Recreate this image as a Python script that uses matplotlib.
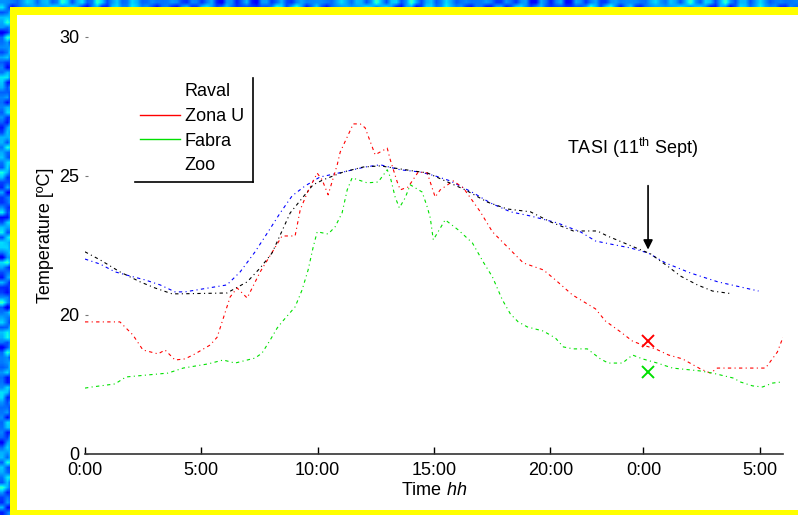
import numpy as np
import matplotlib
matplotlib.use("Agg")
import matplotlib.pyplot as plt
from matplotlib.lines import Line2D
from matplotlib.patches import Rectangle

plt.rcParams["font.family"] = ["Liberation Sans", "DejaVu Sans"]
plt.rcParams["mathtext.fontset"] = "custom"
plt.rcParams["mathtext.rm"] = "Liberation Sans"
plt.rcParams["mathtext.it"] = "Liberation Sans:italic"

# hours since 0:00 of the first day, temperature in degC
raval_h = [0.0, 0.65, 1.29, 1.94, 2.58, 3.23, 3.87, 4.3, 4.8, 6.1, 6.67, 7.31, 7.87,
           8.39, 8.9, 9.46, 10.1, 11.1, 12.04, 12.69, 13.55, 14.41, 15.05, 15.7,
           16.69, 17.42, 18.28, 19.14, 20.3, 21.29, 21.94, 22.58, 23.44, 24.2,
           24.95, 26.02, 27.2, 28.95]
raval_t = [22.01, 21.83, 21.55, 21.40, 21.26, 21.08, 20.83, 20.83, 20.9, 21.08, 21.55,
           22.27, 22.99, 23.67, 24.28, 24.64, 24.96, 25.14, 25.32, 25.40, 25.22,
           25.14, 25.0, 24.82, 24.39, 24.03, 23.71, 23.56, 23.31, 22.99, 22.66,
           22.55, 22.41, 22.23, 21.87, 21.51, 21.19, 20.86]

zonau_h = [0.0, 1.5, 2.06, 2.49, 3.14, 3.44, 3.87, 4.3, 4.73, 5.38, 5.68, 6.24, 6.54,
           6.97, 7.53, 8.47, 9.03, 9.25, 9.55, 9.98, 10.19, 10.45, 10.84, 10.97,
           11.27, 11.53, 11.83, 12.04, 12.47, 12.99, 13.12, 13.42, 13.55, 13.89,
           14.32, 14.71, 14.92, 15.05, 15.27, 15.83, 16.26, 16.99, 17.51, 18.15,
           18.84, 19.7, 20.22, 20.95, 21.94, 22.37, 22.97, 23.53, 23.96, 24.52,
           25.08, 25.68, 26.45, 26.88, 27.18, 28.82, 29.25, 29.76, 30.0]
zonau_t = [19.75, 19.75, 19.28, 18.74, 18.6, 18.74, 18.38, 18.42, 18.6, 18.92, 19.2,
           20.65, 20.97, 20.61, 21.55, 22.84, 22.84, 23.78, 24.39, 25.1, 24.86,
           24.32, 25.4, 25.86, 26.4, 26.87, 26.87, 26.73, 25.76, 26.0, 25.58,
           24.78, 24.5, 24.6, 25.14, 25.11, 24.57, 24.24, 24.5, 24.82, 24.57,
           23.71, 22.99, 22.45, 21.87, 21.62, 21.26, 20.72, 20.22, 19.78, 19.42,
           19.06, 18.92, 18.78, 18.56, 18.42, 18.06, 17.91, 18.09, 18.09, 18.09,
           18.67, 19.2]

fabra_h = [0.0, 0.3, 1.29, 1.76, 3.57, 4.22, 5.29, 5.94, 6.45, 7.31, 7.61, 7.96, 8.26,
           8.47, 9.03, 9.33, 9.59, 9.81, 9.98, 10.45, 10.75, 11.05, 11.27, 11.48,
           12.13, 12.6, 12.99, 13.12, 13.33, 13.51, 13.76, 13.98, 14.49, 14.71,
           14.84, 14.97, 15.48, 16.04, 16.65, 17.12, 17.51, 17.94, 18.28, 18.62,
           19.01, 19.7, 20.22, 20.56, 20.99, 21.59, 22.15, 22.49, 23.1, 23.53,
           23.96, 24.6, 25.25, 26.41, 26.97, 27.87, 28.17, 28.69, 29.12, 29.55,
           29.94]
fabra_t = [17.37, 17.41, 17.52, 17.77, 17.91, 18.09, 18.24, 18.38, 18.27, 18.45, 18.63,
           19.1, 19.53, 19.75, 20.29, 20.9, 21.62, 22.45, 22.99, 22.91, 23.17,
           23.67, 24.5, 24.93, 24.75, 24.78, 25.22, 24.96, 24.24, 23.85, 24.21,
           24.68, 24.42, 23.88, 23.49, 22.7, 23.42, 23.06, 22.59, 21.9, 21.37,
           20.54, 20.04, 19.75, 19.57, 19.42, 19.17, 18.85, 18.78, 18.78, 18.42,
           18.27, 18.27, 18.56, 18.42, 18.27, 18.09, 17.99, 17.91, 17.73, 17.59,
           17.45, 17.41, 17.55, 17.59]

zoo_h = [0.0, 0.65, 1.5, 2.37, 3.01, 3.74, 4.1, 6.1, 6.97, 7.53, 8.04, 8.82, 9.8,
         10.24, 11.1, 11.96, 12.69, 14.1, 14.71, 15.48, 16.34, 17.29, 18.15, 19.14,
         20.0, 20.99, 22.02, 22.45, 23.57, 24.3, 25.08, 25.59, 26.32, 26.97, 27.83]
zoo_t = [22.27, 21.98, 21.55, 21.19, 20.97, 20.76, 20.76, 20.79, 21.19, 21.69, 22.23,
         23.67, 24.68, 24.86, 25.14, 25.32, 25.36, 25.18, 25.11, 24.82, 24.5,
         24.06, 23.81, 23.71, 23.35, 23.02, 23.02, 22.84, 22.45, 22.2, 21.73,
         21.4, 21.08, 20.86, 20.76]

# satellite (TASI) overpass estimates
tasi_h = 24.2
tasi_zonau = 19.06
tasi_fabra = 17.95
tasi_arrow_t = 22.25

xtick_pos = [0, 5, 10, 15, 20, 24, 29]
xtick_lab = ["0:00", "5:00", "10:00", "15:00", "20:00", "0:00", "5:00"]
ytick_pos = [15, 20, 25, 30]
ytick_lab = ["0", "20", "25", "30"]

fig = plt.figure(figsize=(7.98, 5.15), dpi=100)

# textured blue backdrop with yellow frame
bg = fig.add_axes([0, 0, 1, 1], zorder=-10)
yy, xx = np.mgrid[0:103, 0:160]
tex = (np.sin(xx * 0.9 + np.cos(yy * 0.7) * 3) * np.cos(yy * 1.1 - np.sin(xx * 0.5) * 2)
       + 0.5 * np.sin((xx + yy) * 1.7))
bg.imshow(tex, cmap="jet", vmin=-2.2, vmax=6.5, aspect="auto", interpolation="bilinear")
bg.add_patch(Rectangle((10 / 798, 0), 1.0, (515 - 7) / 515, transform=bg.transAxes,
                       facecolor="#ffff00", edgecolor="none"))
bg.add_patch(Rectangle((17 / 798, 5 / 515), 1.0, (515 - 20) / 515, transform=bg.transAxes,
                       facecolor="white", edgecolor="none"))
bg.set_axis_off()

ax = fig.add_axes([85 / 798, 61 / 515, 698 / 798, 438 / 515])
ax.patch.set_alpha(0)

ls = (0, (3, 3, 1, 3))
ax.plot(raval_h, raval_t, color="#0000ff", lw=0.8, ls=ls)
ax.plot(zonau_h, zonau_t, color="#ff0000", lw=0.8, ls=ls)
ax.plot(fabra_h, fabra_t, color="#00e000", lw=0.8, ls=ls)
ax.plot(zoo_h, zoo_t, color="black", lw=0.8, ls=ls)

ax.plot([tasi_h], [tasi_zonau], marker="x", color="#ff0000", ms=8, mew=1.4, ls="none")
ax.plot([tasi_h], [tasi_fabra], marker="x", color="#00e000", ms=8, mew=1.4, ls="none")

ax.annotate("", xy=(tasi_h, tasi_arrow_t), xytext=(tasi_h, 24.75),
            arrowprops=dict(arrowstyle="-|>", color="black", lw=1.2, mutation_scale=14))
ax.text(23.53, 26.0, r"TASI (11$^{\mathrm{th}}$ Sept)", fontsize=13, ha="center", va="center")

ax.set_xlim(0, 30)
ax.set_ylim(15, 30.75)
ax.set_xticks(xtick_pos)
ax.set_xticklabels(xtick_lab)
ax.set_yticks(ytick_pos)
ax.set_yticklabels(ytick_lab)
ax.tick_params(axis="x", direction="in", length=5, width=1, pad=6, labelsize=13)
ax.tick_params(axis="y", direction="in", length=2, width=0.8, color="#777777", pad=4,
               labelsize=13)
for s in ["top", "right", "left"]:
    ax.spines[s].set_visible(False)
ax.spines["bottom"].set_linewidth(1.2)
ax.spines["bottom"].set_color("#333333")

ax.set_xlabel(r"Time $\mathit{hh}$", fontsize=13, labelpad=2)
ax.set_ylabel("Temperature [ºC]", fontsize=13, labelpad=4)

handles = [Line2D([], [], color="none"),
           Line2D([], [], color="#ff0000", lw=1),
           Line2D([], [], color="#00e000", lw=1),
           Line2D([], [], color="none")]
leg = ax.legend(handles, ["Raval", "Zona U", "Fabra", "Zoo"], loc="upper left",
                bbox_to_anchor=(135 / 798, 1 - 78 / 515), bbox_transform=fig.transFigure,
                frameon=False, fontsize=13, handlelength=2.2, handletextpad=0.25,
                labelspacing=0.42, borderpad=0.3, borderaxespad=0)

# legend box: only the right and bottom edges are drawn
fig.canvas.draw()
bb = leg.get_window_extent()
x1 = (bb.x1 + 4) / fig.bbox.width
y0 = (bb.y0 - 2) / fig.bbox.height
x0 = bb.x0 / fig.bbox.width
y1 = bb.y1 / fig.bbox.height
fig.add_artist(Line2D([x1, x1], [y0, y1], color="black", lw=1.2, transform=fig.transFigure))
fig.add_artist(Line2D([x0, x1], [y0, y0], color="black", lw=1.2, transform=fig.transFigure))

fig.savefig("out.png", dpi=100)
